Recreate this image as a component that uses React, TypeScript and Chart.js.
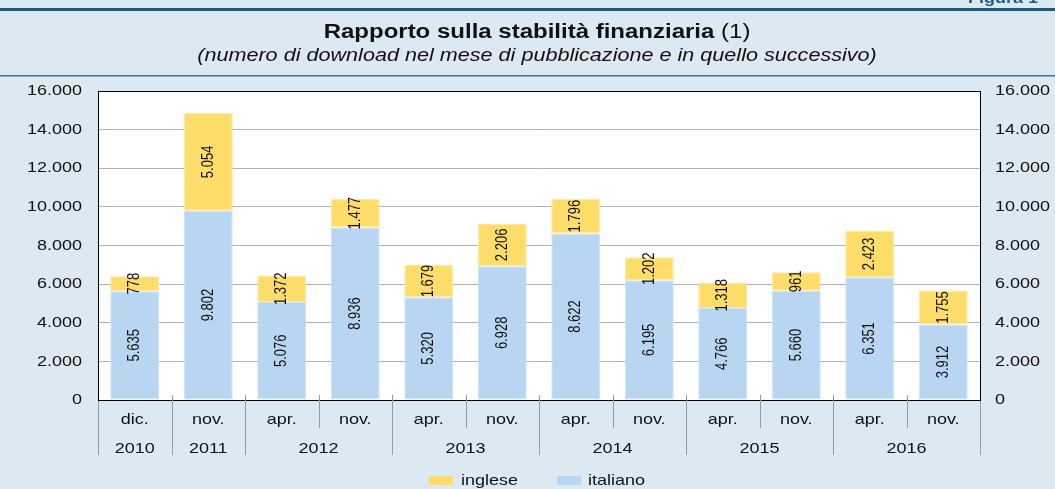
import { useEffect, useRef } from 'react';
import { Chart, registerables } from 'chart.js';
Chart.register(...registerables);

const months = ['dic.', 'nov.', 'apr.', 'nov.', 'apr.', 'nov.', 'apr.', 'nov.', 'apr.', 'nov.', 'apr.', 'nov.'];
const years = ['2010', '2011', '2012', '2012', '2013', '2013', '2014', '2014', '2015', '2015', '2016', '2016'];
const italiano = [5635, 9802, 5076, 8936, 5320, 6928, 8622, 6195, 4766, 5660, 6351, 3912];
const inglese = [778, 5054, 1372, 1477, 1679, 2206, 1796, 1202, 1318, 961, 2423, 1755];
const yTicks = [0, 2000, 4000, 6000, 8000, 10000, 12000, 14000, 16000];
const titleBold = 'Rapporto sulla stabilità finanziaria ';
const titleRegular = '(1)';
const subtitle = '(numero di download nel mese di pubblicazione e in quello successivo)';
const figLabel = 'Figura 1';

const W = 1055;
const H = 489;
const SX = 1.2;
const FF = '"Liberation Sans", Arial, Helvetica, sans-serif';
const BG = '#dde9f2';
const YELLOW = '#ffdd6b';
const BLUE = '#b8d6f1';

const fmt = (v: number) => String(v).replace(/\B(?=(\d{3})+(?!\d))/g, '.');

function txt(ctx: CanvasRenderingContext2D, s: string, x: number, y: number, font: string,
  align: CanvasTextAlign = 'center', baseline: CanvasTextBaseline = 'alphabetic', color = '#111', rot = false, sx = SX) {
  ctx.save();
  ctx.font = font;
  ctx.fillStyle = color;
  ctx.textAlign = align;
  ctx.textBaseline = baseline;
  ctx.translate(x, y);
  if (rot) {
    ctx.rotate(-Math.PI / 2);
    ctx.scale(1, sx);
  } else {
    ctx.scale(sx, 1);
  }
  ctx.fillText(s, 0, 0);
  ctx.restore();
}

const decor = {
  id: 'decor',
  beforeDraw(chart: any) {
    const { ctx, chartArea: a } = chart;
    ctx.save();
    ctx.fillStyle = BG;
    ctx.fillRect(0, 0, W, H);
    ctx.fillStyle = '#fff';
    ctx.fillRect(a.left, a.top, a.right - a.left, a.bottom - a.top);
    ctx.restore();
  },
  afterDatasetsDraw(chart: any) {
    const { ctx } = chart;
    chart.data.datasets.forEach((ds: any, di: number) => {
      const meta = chart.getDatasetMeta(di);
      meta.data.forEach((el: any, i: number) => {
        const cy = (el.y + el.base) / 2;
        txt(ctx, fmt(ds.data[i]), el.x, cy, `13px ${FF}`, 'center', 'middle', '#111', true);
      });
    });
  },
  afterDraw(chart: any) {
    const { ctx, chartArea: a, scales } = chart;
    const xs = scales.x;
    const ys = scales.y;
    const n = months.length;
    const cw = (a.right - a.left) / n;
    ctx.save();
    // top lines
    ctx.fillStyle = '#1d5d7e';
    ctx.fillRect(0, 8, W, 3);
    ctx.fillStyle = '#3f7391';
    ctx.fillRect(0, 75, W, 1.5);
    // plot top border
    ctx.strokeStyle = '#000';
    ctx.lineWidth = 1;
    ctx.beginPath();
    ctx.moveTo(a.left, a.top + 0.5);
    ctx.lineTo(a.right, a.top + 0.5);
    ctx.stroke();
    // separators
    ctx.strokeStyle = '#9a9a9a';
    for (let k = 0; k <= n; k++) {
      const x = Math.round(a.left + k * cw) + 0.5;
      const yb = k === 0 || k === n || years[k] !== years[k - 1];
      ctx.beginPath();
      ctx.moveTo(x, a.bottom + (k === 0 || k === n ? 1 : -5));
      ctx.lineTo(x, a.bottom + (yb ? 55 : 28));
      ctx.stroke();
    }
    ctx.restore();
    // month labels
    months.forEach((m, i) => {
      txt(ctx, m, xs.getPixelForValue(i), a.bottom + 24, `15px ${FF}`);
    });
    // year labels
    let s = 0;
    for (let i = 1; i <= n; i++) {
      if (i === n || years[i] !== years[s]) {
        const cx = a.left + ((s + i) / 2) * cw;
        txt(ctx, years[s], cx, a.bottom + 53, `15px ${FF}`);
        s = i;
      }
    }
    // y tick labels
    yTicks.forEach((t) => {
      const y = ys.getPixelForValue(t);
      txt(ctx, fmt(t), a.left - 16, y, `15px ${FF}`, 'right', 'middle');
      txt(ctx, fmt(t), a.right + 15, y, `15px ${FF}`, 'left', 'middle');
    });
    // title
    ctx.save();
    ctx.font = `bold 20px ${FF}`;
    const w1 = ctx.measureText(titleBold).width * SX;
    ctx.font = `20px ${FF}`;
    const w2 = ctx.measureText(titleRegular).width * SX;
    ctx.restore();
    const tx = 537 - (w1 + w2) / 2;
    txt(ctx, titleBold, tx, 38, `bold 20px ${FF}`, 'left');
    txt(ctx, titleRegular, tx + w1, 38, `20px ${FF}`, 'left');
    txt(ctx, subtitle, 537, 61, `italic 18px ${FF}`);
    txt(ctx, figLabel, 968, 3, `bold 15px ${FF}`, 'left', 'alphabetic', '#1d5d7e');
    // legend
    ctx.save();
    ctx.fillStyle = YELLOW;
    ctx.fillRect(429, 476, 24, 9);
    ctx.fillStyle = BLUE;
    ctx.fillRect(557, 476, 24, 9);
    ctx.restore();
    txt(ctx, 'inglese', 461, 485, `15px ${FF}`, 'left');
    txt(ctx, 'italiano', 588, 485, `15px ${FF}`, 'left');
  },
};

export default function App() {
  const ref = useRef<HTMLCanvasElement | null>(null);
  useEffect(() => {
    if (!ref.current) return;
    const chart = new Chart(ref.current, {
      type: 'bar',
      data: {
        labels: months.map((m, i) => `${m} ${years[i]}`),
        datasets: [
          { label: 'italiano', data: italiano, backgroundColor: BLUE, borderColor: '#cfe3f6', borderWidth: 1, borderSkipped: false },
          { label: 'inglese', data: inglese, backgroundColor: YELLOW, borderColor: '#ffe9a3', borderWidth: 1, borderSkipped: false },
        ],
      },
      options: {
        responsive: false,
        animation: false,
        events: [],
        layout: { padding: { top: 91, left: 0, right: 0, bottom: 0 } },
        plugins: { legend: { display: false }, tooltip: { enabled: false }, title: { display: false } },
        scales: {
          x: {
            stacked: true,
            grid: { display: false, drawTicks: false },
            ticks: { display: false },
            border: { display: true, color: '#000', width: 1 },
            afterFit: (s: any) => { s.height = 89; },
          },
          y: {
            stacked: true,
            position: 'left',
            min: 0,
            max: 16000,
            ticks: { display: false, stepSize: 2000 },
            grid: { color: '#b0b0b0', drawTicks: false },
            border: { display: true, color: '#000', width: 1 },
            afterFit: (s: any) => { s.width = 98; },
          },
          y2: {
            position: 'right',
            min: 0,
            max: 16000,
            ticks: { display: false, stepSize: 2000 },
            grid: { display: false, drawTicks: false },
            border: { display: true, color: '#000', width: 1 },
            afterFit: (s: any) => { s.width = 75; },
          },
        },
        datasets: { bar: { categoryPercentage: 1, barPercentage: 0.667 } },
      } as any,
      plugins: [decor],
    });
    return () => chart.destroy();
  }, []);
  return (
    <div style={{ position: 'absolute', left: 0, top: 0, width: W, height: H }}>
      <canvas ref={ref} width={W} height={H} style={{ display: 'block', width: W, height: H }} />
    </div>
  );
}
